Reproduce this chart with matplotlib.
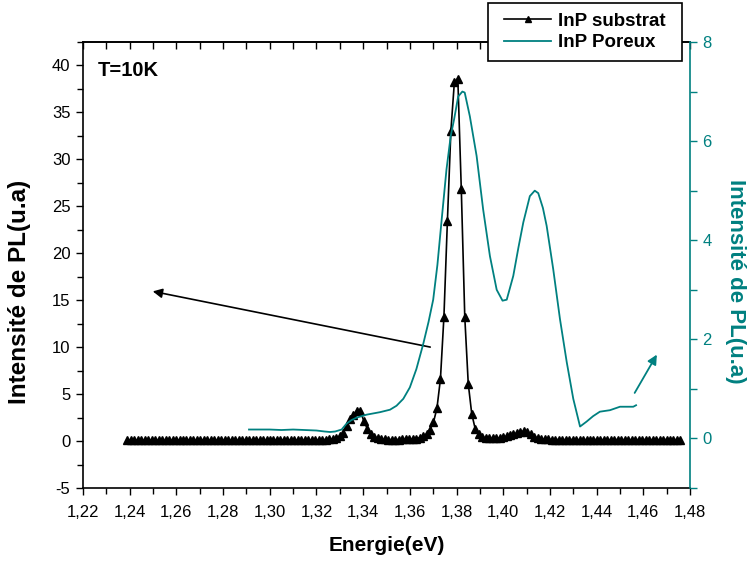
import numpy as np
import matplotlib
matplotlib.use("Agg")
import matplotlib.pyplot as plt
from matplotlib.ticker import MultipleLocator, FuncFormatter, NullFormatter
from matplotlib.lines import Line2D
from matplotlib.patches import Rectangle

plt.rcParams['font.family'] = ['Liberation Sans', 'DejaVu Sans']

TEAL = '#008080'

# InP substrat (left axis), uniform energy grid
sub_start = 1.2390
sub_step = 0.00149
sub_y = [
    0.10, 0.12, 0.10, 0.11, 0.09, 0.10, 0.12, 0.10, 0.11, 0.10,
    0.09, 0.10, 0.11, 0.10, 0.12, 0.10, 0.09, 0.11, 0.10, 0.10,
    0.12, 0.11, 0.10, 0.09, 0.10, 0.11, 0.10, 0.12, 0.10, 0.11,
    0.10, 0.09, 0.10, 0.11, 0.10, 0.12, 0.10, 0.11, 0.10, 0.09,
    0.10, 0.11, 0.10, 0.12, 0.11, 0.10, 0.10, 0.11, 0.12, 0.10,
    0.11, 0.10, 0.12, 0.11, 0.12, 0.13,
    0.14, 0.16, 0.19, 0.23, 0.32, 0.50, 0.90, 1.60, 2.30, 2.80,
    3.25, 3.20, 2.10, 1.30, 0.75, 0.45, 0.30, 0.22,
    0.18, 0.16, 0.15, 0.15, 0.16, 0.17, 0.18, 0.20, 0.22,
    0.25, 0.35, 0.50, 0.75, 1.20, 2.00, 3.50, 6.60, 13.2, 23.4,
    33.0, 38.2, 38.6, 26.8, 13.2, 6.10, 2.90, 1.30, 0.70, 0.45, 0.32,
    0.28, 0.28, 0.30, 0.35, 0.40, 0.50, 0.60, 0.72, 0.85, 0.98,
    1.05, 0.95, 0.70, 0.45, 0.32, 0.25,
    0.20, 0.18, 0.16, 0.15, 0.16, 0.15, 0.14, 0.15, 0.16, 0.15,
    0.14, 0.15, 0.15, 0.14, 0.16, 0.15, 0.14, 0.15, 0.15, 0.14,
    0.15, 0.16, 0.15, 0.14, 0.15, 0.15, 0.14, 0.15, 0.16, 0.15,
    0.14, 0.15, 0.15, 0.14, 0.15, 0.16, 0.15, 0.14, 0.15, 0.15,
]
sub_x = sub_start + sub_step * np.arange(len(sub_y))

# InP Poreux (right axis)
por_x = [1.2911, 1.295, 1.300, 1.305, 1.310, 1.315, 1.320, 1.3235, 1.3258, 1.328,
         1.3308, 1.3329, 1.335, 1.3372, 1.3415, 1.3472, 1.3515, 1.3543, 1.3572, 1.360,
         1.3628, 1.3657, 1.368, 1.370, 1.3718, 1.3736, 1.3757, 1.3775, 1.379, 1.3807,
         1.3825, 1.3835, 1.3857, 1.3886, 1.3914, 1.3943, 1.3972, 1.3997, 1.4015, 1.4043,
         1.4065, 1.4086, 1.4114, 1.4135, 1.4150, 1.4170, 1.4186, 1.4214, 1.4243, 1.4272,
         1.4300, 1.4329, 1.4357, 1.4385, 1.4414, 1.4457, 1.4500, 1.4557, 1.4569]
por_y = [0.18, 0.18, 0.18, 0.17, 0.18, 0.17, 0.16, 0.14, 0.13, 0.14,
         0.18, 0.30, 0.37, 0.42, 0.48, 0.53, 0.58, 0.66, 0.80, 1.03,
         1.40, 1.90, 2.35, 2.80, 3.50, 4.40, 5.43, 6.10, 6.45, 6.90,
         7.00, 6.98, 6.50, 5.70, 4.62, 3.68, 3.00, 2.78, 2.80, 3.28,
         3.85, 4.36, 4.89, 5.00, 4.95, 4.65, 4.29, 3.42, 2.41, 1.54,
         0.80, 0.24, 0.34, 0.45, 0.54, 0.57, 0.64, 0.64, 0.67]

W, H = 748, 563
fig = plt.figure(figsize=(7.48, 5.63), dpi=100)
ax = fig.add_axes([83/W, 1-488/H, 607/W, 446/H])
ax2 = ax.twinx()

ax.plot(sub_x, sub_y, color='black', lw=1.2, marker='^', ms=6, mec='black', mfc='black', zorder=3)
ax2.plot(por_x, por_y, color=TEAL, lw=1.3)

ax.set_xlim(1.22, 1.48)
ax.set_ylim(-5, 42.5)
ax2.set_ylim(-1, 8)

comma = FuncFormatter(lambda v, p: ('%.2f' % v).replace('.', ','))
ax.xaxis.set_major_locator(MultipleLocator(0.02))
ax.xaxis.set_minor_locator(MultipleLocator(0.01))
ax.xaxis.set_major_formatter(comma)
ax.yaxis.set_major_locator(MultipleLocator(5))
ax.yaxis.set_minor_locator(MultipleLocator(2.5))
ax.yaxis.set_major_formatter(FuncFormatter(lambda v, p: '%d' % v))
ax2.yaxis.set_major_locator(MultipleLocator(2))
ax2.yaxis.set_minor_locator(MultipleLocator(1))
ax2.yaxis.set_major_formatter(FuncFormatter(lambda v, p: '%d' % v))

ax.tick_params(axis='both', which='both', direction='out', labelsize=12, width=1)
ax.tick_params(which='major', length=5)
ax.tick_params(which='minor', length=4)
ax.tick_params(axis='x', which='major', pad=7)
ax.tick_params(axis='y', which='major', pad=4)

top = ax.secondary_xaxis('top')
top.xaxis.set_major_locator(MultipleLocator(0.01))
top.xaxis.set_major_formatter(NullFormatter())
top.tick_params(direction='in', length=5, width=1)
top.spines['top'].set_linewidth(1.2)

ax2.tick_params(axis='y', which='both', colors=TEAL, labelsize=12, width=1, direction='out')
ax2.tick_params(axis='y', which='major', length=5, pad=4)
ax2.tick_params(axis='y', which='minor', length=5)
for s in ax2.spines.values():
    s.set_visible(False)
ax2.spines['right'].set_visible(True)
ax2.spines['right'].set_color(TEAL)
ax2.spines['right'].set_linewidth(1.2)
ax.spines['right'].set_visible(False)
for s in ['left', 'top', 'bottom']:
    ax.spines[s].set_linewidth(1.2)

ax.set_xlabel('Energie(eV)', fontsize=15, fontweight='bold')
ax.xaxis.set_label_coords(0.5, -(536-488)/446, transform=ax.transAxes)
ax.set_ylabel('Intensité de PL(u.a)', fontsize=17.5, fontweight='bold')
ax.yaxis.set_label_coords(-(83-31)/607, (488-292)/446)
ax2.set_ylabel('Intensité de PL(u.a)', fontsize=16, fontweight='bold', color=TEAL,
               rotation=-90, va='center')
ax2.yaxis.set_label_coords(1+(736-690)/607, (488-281)/446)

ax.text(0.025, 0.937, 'T=10K', transform=ax.transAxes, fontsize=14.5, fontweight='bold',
        ha='left', va='center')

# arrows
ax.annotate('', xy=(1.2487, 16.0), xytext=(1.3699, 9.95),
            arrowprops=dict(arrowstyle='-|>', color='black', lw=1.2, mutation_scale=14))
ax2.annotate('', xy=(1.4664, 1.74), xytext=(1.4557, 0.87),
             arrowprops=dict(arrowstyle='-|>', color=TEAL, lw=1.3, mutation_scale=14))

# legend box
box = Rectangle((488/W, 1-61/H), (682-488)/W, (61-3)/H, transform=fig.transFigure,
                facecolor='white', edgecolor='black', lw=1.2, zorder=9)
fig.add_artist(box)
handles = [Line2D([], [], color='black', lw=1.2, marker='^', ms=4.5),
           Line2D([], [], color=TEAL, lw=1.3)]
leg = fig.legend(handles, ['InP substrat', 'InP Poreux'], loc='center',
                 bbox_to_anchor=(585/W, 1-32/H), frameon=False,
                 prop={'weight': 'bold', 'size': 13.5},
                 handlelength=2.5, borderpad=0.2, labelspacing=0.25, handletextpad=0.35,
                 borderaxespad=0)
leg.set_zorder(10)

fig.savefig('out.png', dpi=100)
